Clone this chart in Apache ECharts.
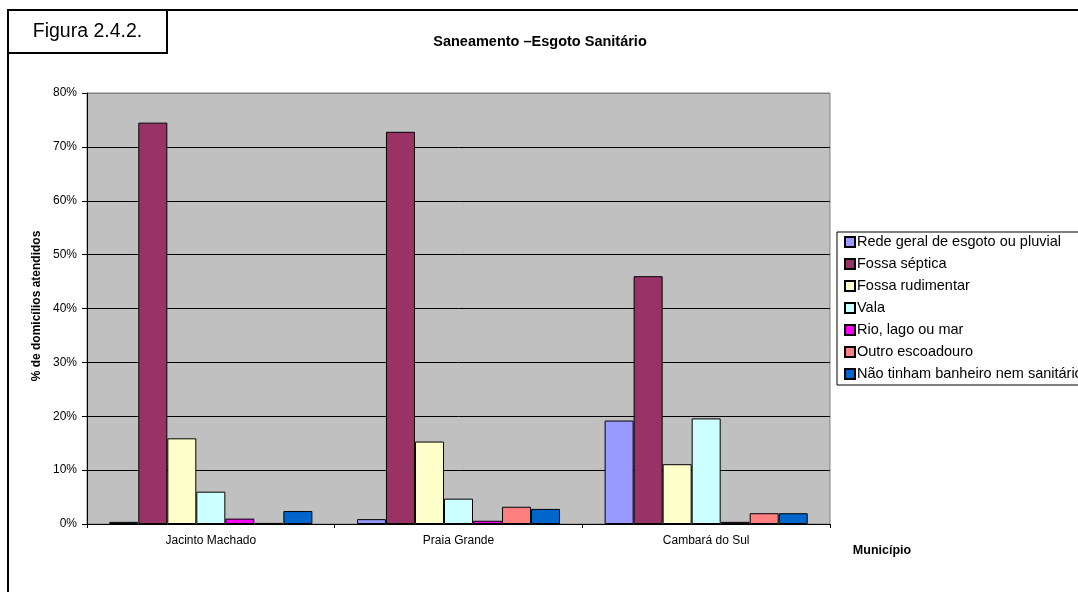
<!DOCTYPE html>
<html>
<head>
<meta charset="utf-8">
<script src="https://cdn.jsdelivr.net/npm/echarts@6/dist/echarts.min.js"></script>
<style>
  html, body { margin: 0; padding: 0; background: #fff; }
  #chart { width: 1078px; height: 592px; }
</style>
</head>
<body>
<div id="chart"></div>
<script>
// Municípios e percentual de domicílios por tipo de esgotamento sanitário
var categories = ['Jacinto Machado', 'Praia Grande', 'Cambará do Sul'];
var seriesNames = [
  'Rede geral de esgoto ou pluvial',
  'Fossa séptica',
  'Fossa rudimentar',
  'Vala',
  'Rio, lago ou mar',
  'Outro escoadouro',
  'Não tinham banheiro nem sanitário'
];
var rede       = [0.4, 0.9, 19.2];
var septica    = [74.5, 72.8, 46.0];
var rudimentar = [15.9, 15.3, 11.1];
var vala       = [6.0, 4.7, 19.6];
var rio        = [1.0, 0.6, 0.4];
var outro      = [0.2, 3.2, 2.0];
var semBanheiro = [2.4, 2.8, 2.0];
var seriesColors = ['#9999FF', '#993366', '#FFFFCC', '#CCFFFF', '#FF00FF', '#FF8080', '#0066CC'];
var yMin = 0, yMax = 80, yStep = 10;

var FONT = '"Liberation Sans", Arial, sans-serif';
var allValues = [rede, septica, rudimentar, vala, rio, outro, semBanheiro];

// Grid lines black, except the top one which is part of the grey plot frame
var splitColors = [];
for (var v = yMin; v <= yMax; v += yStep) splitColors.push(v === yMax ? '#808080' : '#000000');

var chart = echarts.init(document.getElementById('chart'), null, { renderer: 'canvas' });

chart.setOption({
  animation: false,
  backgroundColor: '#ffffff',
  textStyle: { fontFamily: FONT },
  grid: {
    left: 87, right: 248, top: 93, bottom: 68,
    show: true,
    backgroundColor: '#C0C0C0',
    borderColor: '#808080',
    borderWidth: 1
  },
  legend: {
    orient: 'vertical',
    left: 837,
    top: 232,
    padding: [2, 40, 3, 7],
    itemGap: 6,
    itemWidth: 10,
    itemHeight: 10,
    icon: 'rect',
    borderColor: '#000000',
    borderWidth: 1,
    backgroundColor: '#ffffff',
    textStyle: { fontFamily: FONT, fontSize: 14.5, color: '#000', padding: [0, 0, 0, -3], lineHeight: 16 },
    data: seriesNames
  },
  xAxis: {
    type: 'category',
    data: categories,
    axisLine: { lineStyle: { color: '#000', width: 1 } },
    axisTick: { show: true, length: 4, lineStyle: { color: '#000' } },
    axisLabel: { fontFamily: FONT, fontSize: 12, color: '#000', margin: 11 },
    splitLine: { show: false }
  },
  yAxis: {
    type: 'value',
    min: yMin, max: yMax, interval: yStep,
    axisLine: { show: true, lineStyle: { color: '#000', width: 1 } },
    axisTick: { show: true, length: 5, lineStyle: { color: '#000' } },
    axisLabel: { fontFamily: FONT, fontSize: 12, color: '#000', margin: 10, formatter: '{value}%' },
    splitLine: { show: true, lineStyle: { color: splitColors, width: 1 } }
  },
  series: seriesNames.map(function (name, i) {
    return {
      name: name,
      type: 'bar',
      data: allValues[i],
      barGap: '0%',
      barCategoryGap: '18%',
      itemStyle: { color: seriesColors[i], borderColor: '#000', borderWidth: 1 }
    };
  }),
  graphic: [
    // moldura externa da figura
    { type: 'line', shape: { x1: 8, y1: 10, x2: 1078, y2: 10 }, style: { stroke: '#000', lineWidth: 2 } },
    { type: 'line', shape: { x1: 8, y1: 10, x2: 8, y2: 592 }, style: { stroke: '#000', lineWidth: 2 } },
    // caixa de identificação
    { type: 'rect', shape: { x: 8, y: 10, width: 159, height: 43 }, style: { fill: '#fff', stroke: '#000', lineWidth: 2 } },
    { type: 'text', x: 87.5, y: 32, style: { text: 'Figura 2.4.2.', font: '19.5px ' + FONT, fill: '#000', textAlign: 'center', textVerticalAlign: 'middle' } },
    // título
    { type: 'text', x: 540, y: 42, style: { text: 'Saneamento –Esgoto Sanitário', font: 'bold 14.5px ' + FONT, fill: '#000', textAlign: 'center', textVerticalAlign: 'middle' } },
    // nome do eixo vertical
    { type: 'text', x: 37, y: 306, rotation: Math.PI / 2, style: { text: '% de domicílios atendidos', font: 'bold 12px ' + FONT, fill: '#000', textAlign: 'center', textVerticalAlign: 'middle' } },
    // nome do eixo horizontal
    { type: 'text', x: 882, y: 551, style: { text: 'Município', font: 'bold 12.5px ' + FONT, fill: '#000', textAlign: 'center', textVerticalAlign: 'middle' } }
  ]
});
</script>
</body>
</html>
